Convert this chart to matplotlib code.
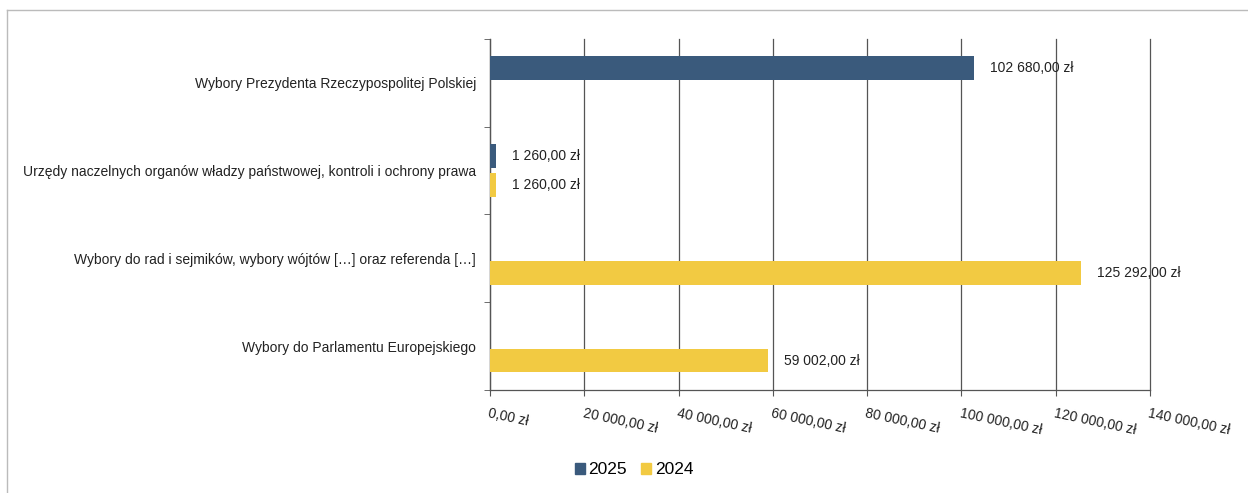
import matplotlib.pyplot as plt
from matplotlib.lines import Line2D
from matplotlib.patches import Patch
import numpy as np

plt.rcParams['font.family'] = ['Liberation Sans', 'DejaVu Sans']

# Dane
categories = [
    "Wybory Prezydenta Rzeczypospolitej Polskiej",
    "Urzędy naczelnych organów władzy państwowej, kontroli i ochrony prawa",
    "Wybory do rad i sejmików, wybory wójtów [\u2026] oraz referenda [\u2026]",
    "Wybory do Parlamentu Europejskiego",
]
values_2025 = [102680.00, 1260.00, 0, 0]
values_2024 = [0, 1260.00, 125292.00, 59002.00]
x_ticks = [0, 20000, 40000, 60000, 80000, 100000, 120000, 140000]

C2025 = "#3a5a7c"
C2024 = "#f2ca42"


def pln(v):
    s = f"{v:,.2f}"
    return s.replace(",", " ").replace(".", ",") + " zł"


fig = plt.figure(figsize=(12.48, 4.93), dpi=100)
ax = fig.add_axes([490 / 1248, 1 - 390 / 493, 660 / 1248, 351 / 493])

y = np.arange(len(categories))
h = 0.27
off25 = -0.17
off24 = 0.165
ax.barh(y + off25, values_2025, height=h, color=C2025, zorder=3)
ax.barh(y + off24, values_2024, height=h, color=C2024, zorder=3)

for yi, v in zip(y, values_2025):
    if v:
        ax.annotate(pln(v), (v, yi + off25), xytext=(16, 0),
                    textcoords="offset pixels", va="center", ha="left",
                    fontsize=10, color="#222222")
for yi, v in zip(y, values_2024):
    if v:
        ax.annotate(pln(v), (v, yi + off24), xytext=(16, 0),
                    textcoords="offset pixels", va="center", ha="left",
                    fontsize=10, color="#222222")

ax.set_xlim(0, 140000)
ax.set_ylim(len(categories) - 0.5, -0.5)

ax.set_xticks(x_ticks)
ax.set_xticklabels([pln(v) for v in x_ticks], rotation=-12, ha="left",
                   va="top", rotation_mode="anchor", fontsize=10,
                   color="#222222")
ax.tick_params(axis="x", length=4, color="#555555", pad=8)

ax.set_yticks(y)
ax.set_yticklabels(categories, fontsize=10, color="#222222")
ax.set_yticks(np.arange(-0.5, len(categories)), minor=True)
ax.tick_params(axis="y", which="major", length=0, pad=10)
ax.tick_params(axis="y", which="minor", length=4, color="#555555")

ax.grid(axis="x", color="#555555", linewidth=0.9, zorder=0)
for gl in ax.get_xgridlines():
    gl.set_clip_on(False)
for side in ["top", "right"]:
    ax.spines[side].set_visible(False)
for side in ["left", "bottom"]:
    ax.spines[side].set_color("#555555")
    ax.spines[side].set_linewidth(0.9)

handles = [Patch(color=C2025, label="2025"), Patch(color=C2024, label="2024")]
fig.legend(handles=handles, loc="center", bbox_to_anchor=(634 / 1248, 1 - 470 / 493),
           ncol=2, frameon=False, fontsize=12.5, handlelength=0.6, handleheight=0.6,
           handletextpad=0.2, columnspacing=0.8)

# ramka
fig.add_artist(Line2D([7 / 1248, 1], [1 - 10 / 493, 1 - 10 / 493], color="#bbbbbb", lw=1))
fig.add_artist(Line2D([7 / 1248, 7 / 1248], [0, 1 - 10 / 493], color="#bbbbbb", lw=1))

fig.savefig("out.png", dpi=100)
